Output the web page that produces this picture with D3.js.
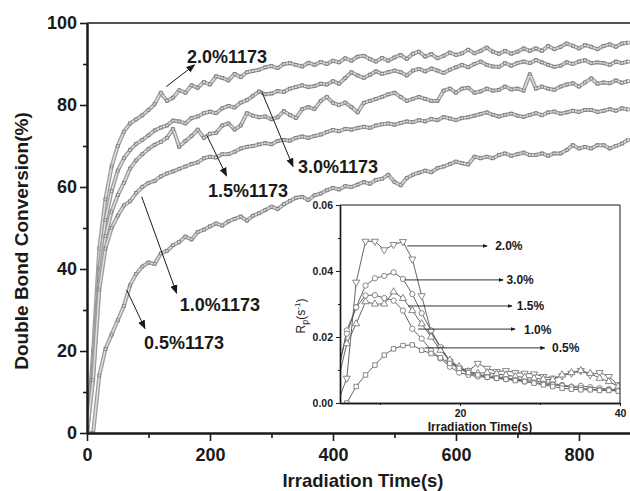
<!DOCTYPE html>
<html><head><meta charset="utf-8">
<script src="https://cdn.jsdelivr.net/npm/d3@7"></script>
<style>body{margin:0;background:#fff} svg{display:block} text{font-family:"Liberation Sans",Arial,sans-serif}</style>
</head><body><svg id="c" width="630" height="491"></svg>
<script>
// ---------- main chart data (conversion %, t in s) ----------
const tMain = [0,10,20,30,40,50,60,70,80,90,100,110,120,130,140,150,160,170,180,190,200,210,220,230,240,250,260,270,280,290,300,310,320,330,340,350,360,370,380,390,400,410,420,430,440,450,460,470,480,490,500,510,520,530,540,550,560,570,580,590,600,610,620,630,640,650,660,670,680,690,700,710,720,730,740,750,760,770,780,790,800,810,820,830,840,850,860,870,880];
const conv20 = [0,20,45,57,65,70,73.5,75.5,76.5,77.5,78.8,80.2,83,81,81.8,83.6,83,84.8,84.2,85.6,85,87,86.6,86,87.6,86.8,88,88.3,88.6,89.2,89.5,89,90,90.2,89.8,89.4,90.3,89.8,90.5,90,90.8,90.4,91.4,90.8,91.8,92,91.2,90.6,91.5,90.8,91.6,92.2,91.2,92.5,93,91.8,92.4,91.4,92,92.8,92.2,92.6,93.5,92.6,93.2,94,93,92.5,93.2,92.5,93,93.8,93.2,93.8,93.2,94.4,93.6,94.2,95,94.4,93.8,94.6,94.2,93.6,94.4,94.8,94.2,95,95.2];
const conv30 = [0,16,40,52,59,64,67,69,70.5,71.5,72.6,73.8,74.5,75,76.2,76,75.5,76.8,77.2,78,78.4,78,79.2,79.8,79.4,80.6,81.2,82.2,83.3,82.6,82.8,83.4,83.2,84,84.4,84.8,84.4,84.6,85.2,85,85.8,85.2,86.6,88,87.2,86.6,87.4,88.2,87.6,88,88.4,88,87.2,88.4,88.8,88.2,88.9,88.4,87.8,88.6,89.2,89.8,89.2,90,90.6,89.8,89.4,89.3,90.2,89.6,90.2,90.6,90.2,91,90.4,89.8,89.3,89.6,90.4,90,90.6,90.9,90.2,90.4,90.2,89.8,90.6,90.2,90.6];
const conv15 = [0,14,37,48,54,58,61,64.5,66.5,68,69.3,70.3,71,72,74.2,69.8,71.2,72.4,74,72,73,73.2,75,75.5,74,75,78,77.4,77,77.2,76.5,77,78.5,77.6,76.8,79,79.5,79,81,82,80.5,80,80.6,79.5,78.2,80.5,81,81.5,82,82.6,83,82,81,81.5,82,81.5,81,81,83.5,84,83,84,84.2,83,83.3,84,83.5,83.7,84.5,83.8,84,83.5,87.5,84,84.5,84,83.7,84.5,85,85.3,84.5,85.5,86.5,85.2,85.5,85.3,86,85.4,85.8];
const conv10 = [0,13,35,45,50,53,55.5,56.5,58.5,60,61,61.5,62.6,63.3,63.8,64.4,65,65.6,66,67,67.4,67.2,68,68,68.6,69.4,69.8,70,70.4,70.7,70.4,71.2,71.5,71.3,72,72.3,72,72.4,72.8,73.4,73.9,73.6,74.2,74,74.4,74.7,74.4,75,75.3,75.5,75.2,75.6,76,75.8,76.3,76,76.6,76.3,77.1,76.7,76.3,76.8,77,77.4,77.8,78.2,77.6,77.2,77.6,77.9,77.4,77.1,77.6,78,77.5,78.2,78.4,77.9,78.2,78.6,78.3,78.8,78.8,78.3,78.6,79,78.6,79.2,78.9];
const conv05 = [0,0,14,20.5,24,27.5,31,36,38.8,40.6,41.6,41.2,43.8,44.4,45.8,46.6,47.9,47.2,49,49.6,50.4,51.1,50.6,51.6,52.2,52.8,51.8,53,53.6,54.4,55.2,54.6,55.8,56.6,57.4,57.6,56.8,58,58.4,59.2,59.8,59.4,60.2,60,60.6,61.2,60.8,61.7,62,63,61.2,60.4,62.2,63,63.5,64,63.6,64.6,65,65.6,66.2,65.8,65.5,67.4,67,67.4,67,67.8,68.2,67.6,68,68.4,67.8,67.8,68.2,67.6,68.2,68.2,69,70.2,69.4,69.8,69.4,70.2,70.2,69.4,70,70.6,71.5];
const mainLabels = ["2.0%1173","3.0%1173","1.5%1173","1.0%1173","0.5%1173"];
const yTicksMain = [0,20,40,60,80,100];
const yMinorMain = [10,30,50,70,90];
const xTicksMain = [0,200,400,600,800];
const xMinorMain = [100,300,500,700];

// ---------- inset data (Rp, s^-1) ----------
const tInset = [4.68,5.85,7.02,8.19,9.36,10.53,11.70,12.87,14.04,15.21,16.38,17.55,18.72,19.89,21.06,22.23,23.40,24.57,25.74,26.91,28.08,29.25,30.42,31.59,32.76,33.93,35.10,36.27,37.44,38.61,39.78];
const rp20 = [0.000,0.0075,0.0366,0.049,0.049,0.0464,0.048,0.0489,0.0436,0.0325,0.0216,0.0166,0.0125,0.0105,0.0098,0.0120,0.0105,0.0095,0.0098,0.0092,0.0090,0.0088,0.0080,0.0075,0.0082,0.0090,0.0098,0.0085,0.0092,0.0080,0.0055];
const rp30 = [0.0085,0.022,0.029,0.0356,0.0378,0.0385,0.0396,0.0376,0.033,0.0272,0.022,0.017,0.0128,0.0105,0.009,0.0085,0.0082,0.0080,0.0075,0.0072,0.0070,0.0068,0.0062,0.0058,0.0055,0.0050,0.0052,0.0048,0.0045,0.0042,0.0040];
const rp15 = [0.006,0.018,0.024,0.0307,0.030,0.030,0.0337,0.0317,0.028,0.024,0.020,0.016,0.013,0.011,0.0095,0.0090,0.0092,0.0088,0.0085,0.0080,0.0078,0.0075,0.0072,0.0070,0.0085,0.0092,0.0098,0.0090,0.0075,0.0065,0.0050];
const rp10 = [0.0090,0.021,0.029,0.0326,0.0327,0.0318,0.031,0.028,0.0225,0.0195,0.016,0.0135,0.011,0.0092,0.0085,0.0080,0.0078,0.0075,0.0072,0.0070,0.0065,0.0062,0.0058,0.0055,0.0052,0.0048,0.0045,0.0042,0.0040,0.0040,0.0038];
const rp05 = [null,0.000,0.005,0.0085,0.0115,0.0145,0.0164,0.0174,0.0176,0.016,0.015,0.0137,0.012,0.0105,0.0092,0.0085,0.0078,0.0075,0.0072,0.0068,0.0065,0.0060,0.0055,0.0050,0.0045,0.0042,0.0040,0.0040,0.0038,0.0038,0.0036];
const insetLabels = ["2.0%","3.0%","1.5%","1.0%","0.5%"];
const insetMarkers = ["triangleDown","circle","triangle","circle","square"];
const yTicksInset = [0,0.02,0.04,0.06];
const yMinorInset = [0.01,0.03,0.05];
const xTicksInset = [20,40];
const xMinorInset = [10,30];

// annotation anchors in data units: [tailT, tailV, headT, headV, labelT, labelV]
const mainArrows = [
  [129,84.5,175,89.8,162.5,90.2],
  [284,83.3,335,65,343,63.4],
  [194.6,72.7,226.9,62.7,196.6,57.6],
  [89,57.6,145.7,34.1,151,29.8],
  [64.5,34.9,94.2,25.5,92.6,20.5]
];
// inset arrows: [startT, endT, value, labelT]
const insetArrows = [
  [13.4,23.4,0.0476,24.4],
  [13.1,25.4,0.0373,25.8],
  [13.5,26.5,0.0294,27.1],
  [14.75,26.9,0.0224,28.0],
  [15.6,30.6,0.0167,31.5]
];

const svg = d3.select("#c");
const ink = "#1a1a1a";
const defs = svg.append("defs");
defs.append("marker").attr("id","ah").attr("viewBox","0 0 10 10").attr("refX",9).attr("refY",5)
  .attr("markerWidth",9).attr("markerHeight",9).attr("markerUnits","userSpaceOnUse").attr("orient","auto")
  .append("path").attr("d","M0,1L10,5L0,9Z").attr("fill",ink);
defs.append("marker").attr("id","ahs").attr("viewBox","0 0 10 10").attr("refX",9).attr("refY",5)
  .attr("markerWidth",5).attr("markerHeight",5).attr("markerUnits","userSpaceOnUse").attr("orient","auto")
  .append("path").attr("d","M0,1L10,5L0,9Z").attr("fill",ink);

// ---------- main ----------
const M = {l:87, r:630, t:23, b:433};
const x = d3.scaleLinear().domain([0,883]).range([M.l,M.r]);
const y = d3.scaleLinear().domain([0,100]).range([M.b,M.t]);
defs.append("clipPath").attr("id","cm").append("rect").attr("x",M.l).attr("y",M.t).attr("width",M.r-M.l).attr("height",M.b-M.t);

const mainSeries = [conv20,conv30,conv15,conv10,conv05];
const line = d3.line().x((d,i)=>x(tMain[i])).y(d=>y(d)).curve(d3.curveLinear);
const gc = svg.append("g").attr("clip-path","url(#cm)");
mainSeries.forEach(s=>{
  gc.append("path").attr("d",line(s)).attr("fill","none").attr("stroke","#9c9c9c").attr("stroke-width",4).attr("stroke-linejoin","round");
  gc.append("path").attr("d",line(s)).attr("fill","none").attr("stroke","#e0e0e0").attr("stroke-width",1.4).attr("stroke-linejoin","round");
  gc.append("g").selectAll("rect").data(s).join("rect")
    .attr("x",(d,i)=>x(tMain[i])-1.5).attr("y",d=>y(d)-1.5).attr("width",3).attr("height",3)
    .attr("fill","none").attr("stroke","#777").attr("stroke-width",0.6);
});

function styleAxis(g, sw){
  g.select(".domain").attr("stroke",ink).attr("stroke-width",sw);
  g.selectAll(".tick line").attr("stroke",ink).attr("stroke-width",1.6);
}
const fmtMain = d3.format("d");
svg.append("g").attr("transform",`translate(${M.l},0)`)
  .call(d3.axisLeft(y).tickValues(yMinorMain).tickSize(4).tickSizeOuter(0).tickFormat(""))
  .call(g=>styleAxis(g,2));
svg.append("g").attr("transform",`translate(${M.l},0)`)
  .call(d3.axisLeft(y).tickValues(yTicksMain).tickSize(7).tickPadding(3).tickSizeOuter(0).tickFormat(fmtMain))
  .call(g=>styleAxis(g,2))
  .call(g=>g.selectAll("text").attr("font-size",18).attr("font-weight","bold").attr("fill",ink));
svg.append("g").attr("transform",`translate(0,${M.b})`)
  .call(d3.axisBottom(x).tickValues(xMinorMain).tickSize(5).tickSizeOuter(0).tickFormat(""))
  .call(g=>styleAxis(g,2));
svg.append("g").attr("transform",`translate(0,${M.b})`)
  .call(d3.axisBottom(x).tickValues(xTicksMain).tickSize(8).tickPadding(7).tickSizeOuter(0).tickFormat(fmtMain))
  .call(g=>styleAxis(g,2))
  .call(g=>g.selectAll("text").attr("font-size",18).attr("font-weight","bold").attr("fill",ink));
svg.append("line").attr("x1",M.l).attr("x2",M.r).attr("y1",M.t).attr("y2",M.t).attr("stroke",ink).attr("stroke-width",1.6);

svg.append("text").attr("x",363).attr("y",487).attr("text-anchor","middle")
  .attr("font-size",18.5).attr("font-weight","bold").attr("fill",ink).text("Irradiation Time(s)");
svg.append("text").attr("transform","translate(28,241) rotate(-90)").attr("text-anchor","middle")
  .attr("font-size",19).attr("font-weight","bold").attr("fill",ink).text("Double Bond Conversion(%)");

mainArrows.forEach((a,i)=>{
  svg.append("line").attr("x1",x(a[0])).attr("y1",y(a[1])).attr("x2",x(a[2])).attr("y2",y(a[3]))
    .attr("stroke",ink).attr("stroke-width",1).attr("marker-end","url(#ah)");
  svg.append("text").attr("x",x(a[4])).attr("y",y(a[5])).attr("font-size",18).attr("font-weight","bold")
    .attr("fill",ink).text(mainLabels[i]);
});

// ---------- inset ----------
const I = {l:340, r:620, t:205, b:403};
const xi = d3.scaleLinear().domain([5,40]).range([I.l,I.r]);
const yi = d3.scaleLinear().domain([0,0.06]).range([I.b,I.t]);
svg.append("rect").attr("x",I.l).attr("y",I.t).attr("width",I.r-I.l).attr("height",I.b-I.t).attr("fill","#fff");
defs.append("clipPath").attr("id","ci").append("rect").attr("x",I.l).attr("y",I.t).attr("width",I.r-I.l).attr("height",I.b-I.t);
const gi = svg.append("g").attr("clip-path","url(#ci)");
const insetSeries = [rp20,rp30,rp15,rp10,rp05];
const lineI = d3.line().defined(d=>d!==null).x((d,i)=>xi(tInset[i])).y(d=>yi(d));
insetSeries.forEach((s,k)=>{
  gi.append("path").attr("d",lineI(s)).attr("fill","none").attr("stroke","#555").attr("stroke-width",0.9);
});
const symMap = {circle:d3.symbolCircle, square:d3.symbolSquare, triangle:d3.symbolTriangle, triangleDown:d3.symbolTriangle};
insetSeries.forEach((s,k)=>{
  const m = insetMarkers[k];
  const sz = m==="circle"?22:(m==="square"?20:22);
  const pts = s.map((d,i)=>({v:d,t:tInset[i]})).filter(p=>p.v!==null);
  gi.append("g").selectAll("path").data(pts).join("path")
    .attr("d",d3.symbol().type(symMap[m]).size(sz))
    .attr("transform",p=>`translate(${xi(p.t)},${yi(p.v)})${m==="triangleDown"?" rotate(180)":""}`)
    .attr("fill","#fff").attr("stroke","#7a7a7a").attr("stroke-width",0.9);
});
// inset frame
svg.append("line").attr("x1",I.l).attr("x2",I.r).attr("y1",I.t).attr("y2",I.t).attr("stroke",ink).attr("stroke-width",1);
svg.append("line").attr("x1",I.r).attr("x2",I.r).attr("y1",I.t).attr("y2",I.b).attr("stroke",ink).attr("stroke-width",1);
const fmtI = d3.format(".2f");
svg.append("g").attr("transform",`translate(${I.l},0)`)
  .call(d3.axisLeft(yi).tickValues(yMinorInset).tickSize(2).tickSizeOuter(0).tickFormat(""))
  .call(g=>styleAxis(g,1.4)).call(g=>g.selectAll(".tick line").attr("stroke-width",1));
svg.append("g").attr("transform",`translate(${I.l},0)`)
  .call(d3.axisLeft(yi).tickValues(yTicksInset).tickSize(4).tickPadding(3).tickSizeOuter(0).tickFormat(fmtI))
  .call(g=>styleAxis(g,1.4)).call(g=>g.selectAll(".tick line").attr("stroke-width",1))
  .call(g=>g.selectAll("text").attr("font-size",10.5).attr("font-weight","bold").attr("fill",ink));
svg.append("g").attr("transform",`translate(0,${I.b})`)
  .call(d3.axisBottom(xi).tickValues(xMinorInset).tickSize(2).tickSizeOuter(0).tickFormat(""))
  .call(g=>styleAxis(g,1.4)).call(g=>g.selectAll(".tick line").attr("stroke-width",1));
svg.append("g").attr("transform",`translate(0,${I.b})`)
  .call(d3.axisBottom(xi).tickValues(xTicksInset).tickSize(3).tickPadding(4).tickSizeOuter(0).tickFormat(d3.format("d")))
  .call(g=>styleAxis(g,1.4)).call(g=>g.selectAll(".tick line").attr("stroke-width",1))
  .call(g=>g.selectAll("text").attr("font-size",10.5).attr("font-weight","bold").attr("fill",ink));
svg.append("text").attr("x",480).attr("y",431).attr("text-anchor","middle")
  .attr("font-size",12).attr("font-weight","bold").attr("fill",ink).text("Irradiation Time(s)");
const yt = svg.append("text").attr("transform","translate(305,316) rotate(-90)").attr("text-anchor","middle")
  .attr("font-size",12).attr("fill",ink);
yt.append("tspan").text("R");
yt.append("tspan").attr("font-size",9).attr("dy",3).text("p");
yt.append("tspan").attr("dy",-3).text("(s");
yt.append("tspan").attr("font-size",8).attr("dy",-5).text("-1");
yt.append("tspan").attr("dy",5).text(")");

insetArrows.forEach((a,i)=>{
  svg.append("line").attr("x1",xi(a[0])).attr("x2",xi(a[1])).attr("y1",yi(a[2])).attr("y2",yi(a[2]))
    .attr("stroke",ink).attr("stroke-width",0.9).attr("marker-end","url(#ahs)");
  svg.append("text").attr("x",xi(a[3])).attr("y",yi(a[2])+4.5).attr("font-size",12).attr("font-weight","bold")
    .attr("fill",ink).text(insetLabels[i]);
});
</script></body></html>
